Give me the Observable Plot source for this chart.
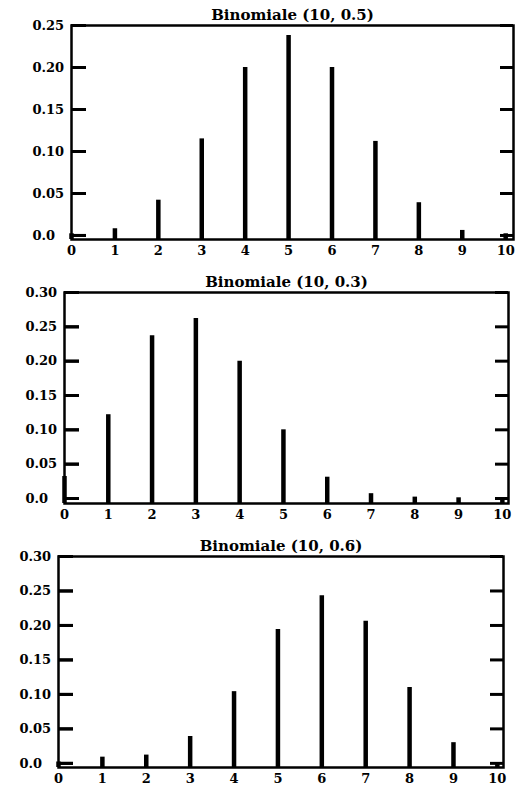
<!DOCTYPE html>
<html>
<head>
<meta charset="utf-8">
<script src="https://cdn.jsdelivr.net/npm/d3@7"></script>
<script src="https://cdn.jsdelivr.net/npm/@observablehq/plot@0.6"></script>
<style>
  body { margin: 0; background: #fff; }
  #chart svg { display: block; }
</style>
</head>
<body>
<div id="chart"></div>
<script>
// Number of successes k in 10 trials
const successes = [0, 1, 2, 3, 4, 5, 6, 7, 8, 9, 10];

// P(X = k) for the three binomial distributions
const probP05 = [0.002, 0.008, 0.042, 0.115, 0.200, 0.238, 0.200, 0.112, 0.039, 0.006, 0.002];
const probP03 = [0.032, 0.122, 0.237, 0.262, 0.200, 0.100, 0.031, 0.007, 0.002, 0.001, 0.001];
const probP06 = [0.002, 0.009, 0.012, 0.039, 0.104, 0.194, 0.243, 0.206, 0.110, 0.030, 0.001];

const titles = ["Binomiale (10, 0.5)", "Binomiale (10, 0.3)", "Binomiale (10, 0.6)"];

// Axis ticks
const xTicks = [0, 1, 2, 3, 4, 5, 6, 7, 8, 9, 10];
const yTicksTo025 = [0, 0.05, 0.10, 0.15, 0.20, 0.25];
const yTicksTo030 = [0, 0.05, 0.10, 0.15, 0.20, 0.25, 0.30];

const W = 515;
const panels = [
  {title: titles[0], probs: probP05, yTicks: yTicksTo025, yMin: -0.0048, yMax: 0.25, xMax: 10.18,
   height: 262, marginTop: 25, marginBottom: 23, marginLeft: 71, marginRight: 2},
  {title: titles[1], probs: probP03, yTicks: yTicksTo030, yMin: -0.0073, yMax: 0.30, xMax: 10.14,
   height: 266, marginTop: 30, marginBottom: 25, marginLeft: 64, marginRight: 7},
  {title: titles[2], probs: probP06, yTicks: yTicksTo030, yMin: -0.006, yMax: 0.30, xMax: 10.14,
   height: 262, marginTop: 28, marginBottom: 23, marginLeft: 58, marginRight: 12}
];

const fmtY = d => d === 0 ? "0.0" : d.toFixed(2);
const tickLen = 15;

for (const p of panels) {
  const rows = successes.map((k, i) => ({k, prob: p.probs[i]}));
  const tickRows = p.yTicks.map(v => ({v}));
  const plotW = W - p.marginLeft - p.marginRight;
  const chart = Plot.plot({
    width: W,
    height: p.height,
    marginTop: p.marginTop,
    marginBottom: p.marginBottom,
    marginLeft: p.marginLeft,
    marginRight: p.marginRight,
    style: {fontFamily: "DejaVu Serif", fontWeight: "bold", fontSize: "13px", color: "#000", background: "#fff"},
    x: {domain: [0, p.xMax]},
    y: {domain: [p.yMin, p.yMax]},
    marks: [
      // spikes from the bottom of the frame up to each probability
      Plot.ruleX(rows, {x: "k", y1: p.yMin, y2: "prob", stroke: "#000", strokeWidth: 4.5}),
      // left tick labels, with inward ticks on the left edge
      Plot.axisY(p.yTicks, {anchor: "left", tickSize: tickLen, dx: tickLen, tickPadding: 39, textAnchor: "start",
        tickFormat: fmtY, label: null, fontSize: 13, letterSpacing: "1.5px", stroke: "#000", strokeWidth: 3}),
      Plot.axisX(xTicks, {tickSize: 0, tickPadding: 6, tickFormat: d => String(d), label: null, fontSize: 13, letterSpacing: "1px"}),
      Plot.frame({stroke: "#000", strokeWidth: 2.5}),
      // inward ticks on both vertical sides
      Plot.ruleY(tickRows, {y: "v", insetRight: plotW - tickLen, stroke: "#000", strokeWidth: 3}),
      Plot.ruleY(tickRows, {y: "v", insetLeft: plotW - tickLen + 2, stroke: "#000", strokeWidth: 3}),
      Plot.text([p.title], {frameAnchor: "top", dy: -10, lineAnchor: "middle", fontSize: 15, letterSpacing: "0.5px", fontWeight: "bold", fill: "#000"})
    ]
  });
  document.getElementById("chart").appendChild(chart);
}
</script>
</body>
</html>
